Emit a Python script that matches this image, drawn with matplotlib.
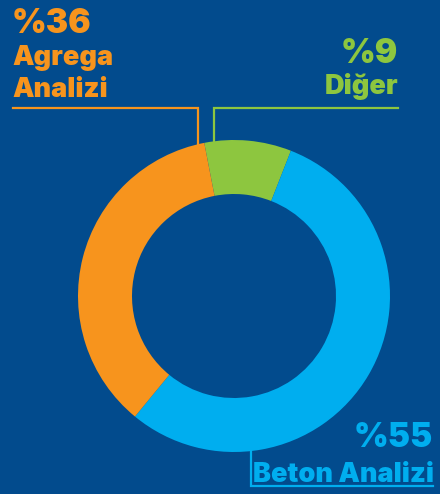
import matplotlib
matplotlib.use("Agg")
import matplotlib.pyplot as plt
import numpy as np

# ---- data ----
labels = ["Diğer", "Beton Analizi", "Agrega Analizi"]
values = [9, 55, 36]
colors = ["#8DC63F", "#00AEEF", "#F7941D"]
BG = "#024B8D"

W, H = 440, 494
CX, CY = 234, H - 296   # ring centre (y measured upwards)
R_OUT = 156
RING_W = 54

plt.rcParams['font.family'] = ['Inter', 'DejaVu Sans']

fig = plt.figure(figsize=(W / 100, H / 100), dpi=100, facecolor=BG)
ax = fig.add_axes([0, 0, 1, 1])
ax.set_facecolor(BG)

ax.pie(values, colors=colors, startangle=101, counterclock=False,
       radius=R_OUT, center=(CX, CY),
       wedgeprops=dict(width=RING_W, linewidth=0))

ax.set_xlim(0, W)
ax.set_ylim(0, H)
ax.axis('off')


def ring_y(x, top=True):
    d = np.sqrt(R_OUT ** 2 - (x - CX) ** 2)
    return CY + d if top else CY - d


lw = 1.6
# leader lines (image y -> H - y)
y_top = H - 108.5
ax.plot([13, 198, 198], [y_top, y_top, ring_y(198) - 1], color=colors[2], lw=lw,
        solid_joinstyle='miter')
ax.plot([214, 214, 398], [ring_y(214) - 1, y_top, y_top], color=colors[0], lw=lw,
        solid_joinstyle='miter')
y_bot = H - 486
ax.plot([251, 251, 433], [ring_y(251, top=False) + 1, y_bot, y_bot], color=colors[1], lw=lw,
        solid_joinstyle='miter')

big = 24
mid = 19.5
wt = 'black'

# Agrega Analizi (top left)
ax.text(12, H - 33, f"%{values[2]}", color=colors[2], fontsize=big, fontweight=wt,
        ha='left', va='baseline')
ax.text(12, H - 65, "Agrega", color=colors[2], fontsize=mid, fontweight=wt,
        ha='left', va='baseline')
ax.text(12, H - 97, "Analizi", color=colors[2], fontsize=mid, fontweight=wt,
        ha='left', va='baseline')

# Diğer (top right)
ax.text(398, H - 63, f"%{values[0]}", color=colors[0], fontsize=big, fontweight=wt,
        ha='right', va='baseline')
ax.text(398, H - 94, labels[0], color=colors[0], fontsize=mid, fontweight=wt,
        ha='right', va='baseline')

# Beton Analizi (bottom right)
ax.text(433, H - 447, f"%{values[1]}", color=colors[1], fontsize=big, fontweight=wt,
        ha='right', va='baseline')
ax.text(434, H - 482, labels[1], color=colors[1], fontsize=mid, fontweight=wt,
        ha='right', va='baseline')

fig.savefig("out.png", dpi=100, facecolor=BG)
